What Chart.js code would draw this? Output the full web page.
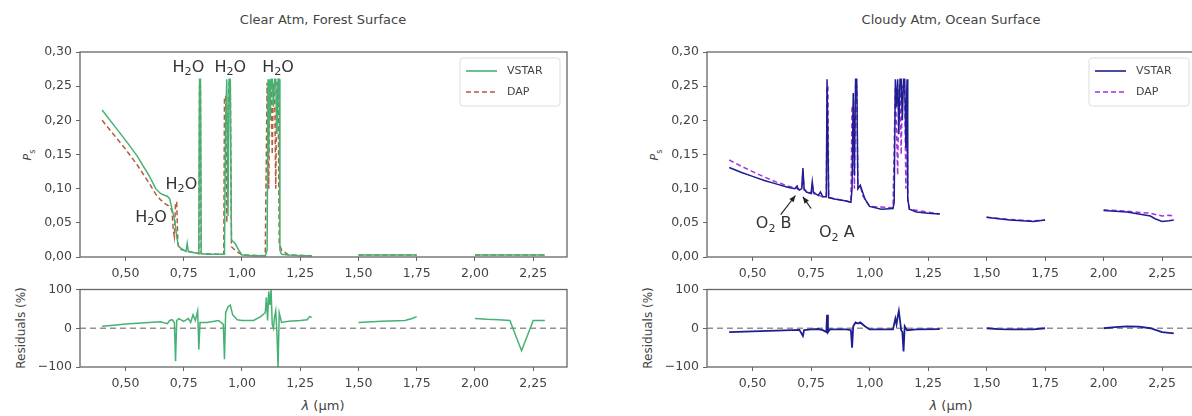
<html>
<head>
<style>
  body { margin: 0; background: #fff; }
  #fig { position: relative; width: 1192px; height: 416px; overflow: hidden; font-family: "DejaVu Sans", sans-serif; color: #444; }
  .pane { position: absolute; }
  .txt { position: absolute; white-space: nowrap; font-size: 13px; color: #444; }
  .rot { transform: translate(-50%, -50%) rotate(-90deg); }
  .ctr { transform: translate(-50%, -50%); }
</style>
</head>
<body>
<div id="fig">
  <div class="txt ctr" style="left:323px; top:19px;">Clear Atm, Forest Surface</div>
  <div class="txt ctr" style="left:951px; top:19px;">Cloudy Atm, Ocean Surface</div>
  <div class="txt rot" style="left:29px; top:155px; font-size:11px;"><i>P</i><sub style="font-size:8px">s</sub></div>
  <div class="txt rot" style="left:656px; top:155px; font-size:11px;"><i>P</i><sub style="font-size:8px">s</sub></div>
  <div class="txt rot" style="left:21px; top:328px; font-size:12px;">Residuals (%)</div>
  <div class="txt rot" style="left:648px; top:328px; font-size:12px;">Residuals (%)</div>
  <div class="txt ctr" style="left:323px; top:405px; font-size:13px;"><i>λ</i> (µm)</div>
  <div class="txt ctr" style="left:951px; top:405px; font-size:13px;"><i>λ</i> (µm)</div>
  <div class="pane" style="left:0px; top:40px; width:575px; height:245px;"><canvas id="tl"></canvas></div>
  <div class="pane" style="left:0px; top:278px; width:575px; height:117px;"><canvas id="bl"></canvas></div>
  <div class="pane" style="left:627px; top:40px; width:577px; height:245px;"><canvas id="tr"></canvas></div>
  <div class="pane" style="left:627px; top:278px; width:577px; height:117px;"><canvas id="br"></canvas></div>
</div>
<script src="https://cdn.jsdelivr.net/npm/chart.js@4.4.0/dist/chart.umd.min.js"></script>
<script>
// tick values
var xTicks = [0.5, 0.75, 1.0, 1.25, 1.5, 1.75, 2.0, 2.25];
var psTicks = [0, 0.05, 0.10, 0.15, 0.20, 0.25, 0.30];
var resTicks = [-100, 0, 100];
var xMin = 0.305, xMax = 2.395;

// Clear atm, forest surface
var lamLeftVstar = [0.40,0.45,0.50,0.55,0.60,0.63,0.65,0.67,0.68,0.69,0.70,0.71,0.715,0.72,0.725,0.73,0.75,0.76,0.765,0.77,0.80,0.815,0.818,0.822,0.825,0.85,0.90,0.925,0.93,0.935,0.94,0.945,0.95,0.955,0.97,0.99,1.00,1.05,1.10,1.108,1.112,1.115,1.118,1.122,1.125,1.13,1.135,1.14,1.145,1.15,1.155,1.16,1.163,1.17,1.20,1.25,1.30,1.40,1.50,1.60,1.75,1.90,2.00,2.15,2.30];
var valLeftVstar = [0.215,0.193,0.171,0.148,0.120,0.100,0.093,0.090,0.089,0.085,0.070,0.055,0.045,0.030,0.020,0.015,0.010,0.008,0.020,0.008,0.006,0.005,0.26,0.26,0.005,0.004,0.004,0.004,0.20,0.26,0.06,0.26,0.26,0.025,0.020,0.008,0.003,0.002,0.002,0.010,0.26,0.15,0.26,0.20,0.26,0.26,0.22,0.26,0.26,0.18,0.26,0.26,0.010,0.004,0.003,0.002,0.002,null,0.003,0.003,0.003,null,0.003,0.003,0.003];
var lamLeftDap = [0.40,0.45,0.50,0.55,0.60,0.63,0.65,0.67,0.685,0.70,0.705,0.71,0.715,0.72,0.725,0.73,0.75,0.80,0.815,0.818,0.822,0.825,0.90,0.922,0.925,0.93,0.935,0.94,0.945,0.95,0.955,0.97,1.00,1.10,1.108,1.115,1.12,1.125,1.13,1.135,1.14,1.145,1.15,1.155,1.16,1.17,1.20,1.30,1.40,1.50,1.60,1.75,1.90,2.00,2.15,2.30];
var valLeftDap = [0.200,0.179,0.158,0.135,0.109,0.092,0.084,0.078,0.075,0.068,0.040,0.030,0.080,0.080,0.020,0.012,0.010,0.006,0.005,0.25,0.25,0.005,0.004,0.004,0.235,0.235,0.05,0.20,0.255,0.255,0.015,0.010,0.003,0.002,0.255,0.10,0.255,0.255,0.15,0.255,0.255,0.10,0.255,0.255,0.02,0.010,0.003,0.002,null,0.003,0.003,0.003,null,0.003,0.003,0.003];
var lamLeftRes = [0.40,0.45,0.50,0.55,0.60,0.65,0.68,0.69,0.70,0.71,0.715,0.72,0.73,0.75,0.77,0.78,0.79,0.80,0.81,0.815,0.82,0.85,0.90,0.92,0.925,0.93,0.94,0.95,0.96,0.98,1.00,1.05,1.08,1.10,1.105,1.11,1.115,1.12,1.125,1.13,1.135,1.14,1.145,1.15,1.155,1.16,1.17,1.20,1.25,1.28,1.29,1.30,1.40,1.50,1.60,1.70,1.73,1.75,1.90,2.00,2.05,2.10,2.15,2.20,2.25,2.30];
var valLeftRes = [5,8,11,13,15,17,12,20,22,15,-85,20,25,18,25,15,35,20,45,-55,15,15,20,10,-80,40,55,60,35,22,20,20,30,40,80,20,95,60,100,10,0,30,45,-10,-100,40,15,18,20,22,30,28,null,15,18,20,25,30,null,25,23,22,20,-58,20,20];

// Cloudy atm, ocean surface
var lamRightVstar = [0.40,0.45,0.50,0.55,0.60,0.65,0.68,0.69,0.695,0.70,0.71,0.715,0.72,0.73,0.75,0.755,0.76,0.78,0.79,0.80,0.815,0.818,0.822,0.825,0.85,0.90,0.92,0.925,0.93,0.935,0.94,0.945,0.95,0.96,0.97,0.98,1.00,1.05,1.10,1.105,1.11,1.115,1.12,1.125,1.13,1.135,1.14,1.145,1.15,1.155,1.16,1.163,1.17,1.20,1.25,1.30,1.40,1.50,1.55,1.60,1.65,1.70,1.75,1.90,2.00,2.05,2.10,2.15,2.20,2.22,2.25,2.28,2.30];
var valRightVstar = [0.131,0.124,0.118,0.112,0.107,0.102,0.100,0.104,0.099,0.098,0.100,0.130,0.100,0.095,0.093,0.110,0.095,0.090,0.095,0.088,0.088,0.26,0.26,0.087,0.085,0.082,0.080,0.100,0.24,0.12,0.26,0.26,0.100,0.105,0.095,0.085,0.074,0.070,0.071,0.080,0.26,0.22,0.26,0.18,0.26,0.26,0.20,0.26,0.26,0.16,0.26,0.085,0.070,0.066,0.064,0.063,null,0.058,0.056,0.054,0.053,0.052,0.054,null,0.068,0.067,0.066,0.063,0.060,0.056,0.052,0.053,0.054];
var lamRightDap = [0.40,0.45,0.50,0.55,0.60,0.65,0.70,0.71,0.715,0.72,0.75,0.755,0.76,0.80,0.815,0.818,0.822,0.825,0.90,0.92,0.925,0.93,0.935,0.94,0.945,0.95,0.96,0.97,1.00,1.10,1.11,1.12,1.125,1.13,1.135,1.14,1.15,1.155,1.16,1.163,1.17,1.30,1.40,1.50,1.60,1.70,1.75,1.90,2.00,2.10,2.20,2.25,2.28,2.30];
var valRightDap = [0.142,0.133,0.125,0.117,0.110,0.104,0.099,0.100,0.125,0.098,0.093,0.105,0.093,0.088,0.088,0.25,0.25,0.087,0.082,0.080,0.222,0.222,0.100,0.25,0.25,0.100,0.105,0.090,0.074,0.072,0.25,0.12,0.25,0.25,0.15,0.25,0.25,0.10,0.25,0.085,0.070,0.063,null,0.058,0.055,0.053,0.054,null,0.069,0.067,0.064,0.060,0.061,0.060];
var lamRightRes = [0.40,0.50,0.60,0.70,0.715,0.72,0.75,0.78,0.80,0.815,0.818,0.822,0.83,0.90,0.92,0.925,0.93,0.94,0.95,0.96,0.98,1.00,1.05,1.10,1.11,1.115,1.12,1.125,1.13,1.135,1.14,1.145,1.15,1.155,1.16,1.20,1.30,1.40,1.50,1.55,1.60,1.70,1.75,1.90,2.00,2.05,2.10,2.15,2.20,2.25,2.30];
var valRightRes = [-10,-8,-6,-4,-20,-5,-3,-2,-5,-10,35,-10,-3,-3,-5,-50,5,15,12,15,5,-3,-3,-3,25,10,30,45,20,-5,-10,-60,5,0,-5,-3,-2,null,0,-2,-3,-3,0,null,0,3,5,4,0,-10,-13];

var textColor = '#444';
var frameColor = '#666';

function pts(lam, val) {
    var out = [];
    for (var i = 0; i < lam.length; i++) {
        out.push({x: lam[i], y: val[i]});
    }
    return out;
}

function fmtComma(v) {
    return v.toFixed(2).replace('.', ',');
}

// draws "H2O" style labels with a lowered subscript
function drawChem(ctx, parts, x, y, size) {
    ctx.save();
    ctx.textBaseline = 'middle';
    var w = 0;
    for (var i = 0; i < parts.length; i++) {
        ctx.font = (parts[i][1] ? size * 0.7 : size) + 'px "DejaVu Sans"';
        w += ctx.measureText(parts[i][0]).width;
    }
    var cx = x - w / 2;
    for (var j = 0; j < parts.length; j++) {
        var sub = parts[j][1];
        ctx.font = (sub ? size * 0.7 : size) + 'px "DejaVu Sans"';
        ctx.fillText(parts[j][0], cx, sub ? y + size * 0.3 : y);
        cx += ctx.measureText(parts[j][0]).width;
    }
    ctx.restore();
}

var framePlugin = {
    id: 'frame',
    afterDraw: function(chart, args, opts) {
        var ctx = chart.ctx, a = chart.chartArea;
        ctx.save();
        ctx.strokeStyle = frameColor;
        ctx.lineWidth = 1.3;
        ctx.strokeRect(a.left, a.top, a.right - a.left, a.bottom - a.top);
        // legend box
        if (opts.legend) {
            var L = opts.legend;
            var bx = a.right - 107, by = a.top + 6, bw = 100, bh = 48;
            ctx.fillStyle = 'rgba(255,255,255,0.85)';
            ctx.strokeStyle = '#ddd';
            ctx.lineWidth = 1;
            ctx.beginPath();
            ctx.roundRect(bx, by, bw, bh, 3);
            ctx.fill();
            ctx.stroke();
            for (var i = 0; i < L.length; i++) {
                var ly = by + 13 + i * 21;
                ctx.strokeStyle = L[i].color;
                ctx.lineWidth = 1.6;
                ctx.setLineDash(L[i].dash || []);
                ctx.beginPath();
                ctx.moveTo(bx + 6, ly);
                ctx.lineTo(bx + 37, ly);
                ctx.stroke();
                ctx.setLineDash([]);
                ctx.fillStyle = textColor;
                ctx.font = '11px "DejaVu Sans"';
                ctx.textBaseline = 'middle';
                ctx.fillText(L[i].label, bx + 47, ly);
            }
        }
        // annotations in data coordinates
        if (opts.notes) {
            var xs = chart.scales.x, ys = chart.scales.y;
            ctx.fillStyle = '#333';
            for (var k = 0; k < opts.notes.length; k++) {
                var n = opts.notes[k];
                drawChem(ctx, n.parts, xs.getPixelForValue(n.x), ys.getPixelForValue(n.y), n.size);
                if (n.arrow) {
                    var x0 = xs.getPixelForValue(n.arrow[0]), y0 = ys.getPixelForValue(n.arrow[1]);
                    var x1 = xs.getPixelForValue(n.arrow[2]), y1 = ys.getPixelForValue(n.arrow[3]);
                    var ang = Math.atan2(y1 - y0, x1 - x0);
                    ctx.strokeStyle = '#222';
                    ctx.lineWidth = 1.2;
                    ctx.beginPath();
                    ctx.moveTo(x0, y0);
                    ctx.lineTo(x1, y1);
                    ctx.stroke();
                    ctx.fillStyle = '#222';
                    ctx.beginPath();
                    ctx.moveTo(x1, y1);
                    ctx.lineTo(x1 - 7 * Math.cos(ang - 0.4), y1 - 7 * Math.sin(ang - 0.4));
                    ctx.lineTo(x1 - 7 * Math.cos(ang + 0.4), y1 - 7 * Math.sin(ang + 0.4));
                    ctx.closePath();
                    ctx.fill();
                    ctx.fillStyle = '#333';
                }
            }
        }
        ctx.restore();
    }
};

function makePanel(id, datasets, yMin, yMax, yTicks, yFmt, padTop, plugOpts) {
    var ctx = document.getElementById(id).getContext('2d');
    return new Chart(ctx, {
        type: 'line',
        data: { datasets: datasets },
        options: {
            responsive: true,
            maintainAspectRatio: false,
            animation: false,
            events: [],
            layout: { padding: { top: padTop, right: 8, left: 0, bottom: 0 } },
            plugins: { legend: { display: false }, tooltip: { enabled: false }, frame: plugOpts },
            elements: { point: { radius: 0 }, line: { tension: 0, borderWidth: 1.5 } },
            scales: {
                x: {
                    type: 'linear', min: xMin, max: xMax,
                    afterBuildTicks: function(s) { s.ticks = xTicks.map(function(v) { return {value: v}; }); },
                    afterFit: function(s) { s.height = 28; },
                    grid: { drawOnChartArea: false, tickLength: 4, color: frameColor },
                    border: { display: false },
                    ticks: { color: textColor, font: { family: 'DejaVu Sans', size: 12.5 }, padding: 5, maxRotation: 0,
                             callback: function(v) { return fmtComma(v); } }
                },
                y: {
                    type: 'linear', min: yMin, max: yMax,
                    afterBuildTicks: function(s) { s.ticks = yTicks.map(function(v) { return {value: v}; }); },
                    afterFit: function(s) { s.width = 80; },
                    grid: { drawOnChartArea: false, tickLength: 4, color: frameColor },
                    border: { display: false },
                    ticks: { color: textColor, font: { family: 'DejaVu Sans', size: 12.5 }, padding: 4, callback: yFmt }
                }
            }
        },
        plugins: [framePlugin]
    });
}

function resFmt(v) { return v < 0 ? '\u2212' + Math.abs(v) : String(v); }

var greenC = '#45b274', dapL = '#b95a3c', blueC = '#1e1e90', dapR = '#a035e0', zeroC = '#9a8f8f';

makePanel('tl', [
    { data: pts(lamLeftVstar, valLeftVstar), borderColor: greenC, spanGaps: false },
    { data: pts(lamLeftDap, valLeftDap), borderColor: dapL, borderDash: [5, 3], spanGaps: false }
], 0, 0.30, psTicks, function(v) { return fmtComma(v); }, 12, {
    legend: [{label: 'VSTAR', color: greenC}, {label: 'DAP', color: dapL, dash: [5, 3]}],
    notes: [
        {parts: [['H',0],['2',1],['O',0]], x: 0.77, y: 0.277, size: 16},
        {parts: [['H',0],['2',1],['O',0]], x: 0.95, y: 0.277, size: 16},
        {parts: [['H',0],['2',1],['O',0]], x: 1.155, y: 0.277, size: 16},
        {parts: [['H',0],['2',1],['O',0]], x: 0.74, y: 0.106, size: 16},
        {parts: [['H',0],['2',1],['O',0]], x: 0.61, y: 0.058, size: 16}
    ]
});

makePanel('bl', [
    { data: pts(lamLeftRes, valLeftRes), borderColor: greenC, spanGaps: false },
    { data: [{x: xMin, y: 0}, {x: xMax, y: 0}], borderColor: zeroC, borderDash: [6, 4], borderWidth: 1.5 }
], -100, 100, resTicks, resFmt, 8, {});

makePanel('tr', [
    { data: pts(lamRightVstar, valRightVstar), borderColor: blueC, spanGaps: false },
    { data: pts(lamRightDap, valRightDap), borderColor: dapR, borderDash: [5, 3], spanGaps: false }
], 0, 0.30, psTicks, function(v) { return fmtComma(v); }, 12, {
    legend: [{label: 'VSTAR', color: blueC}, {label: 'DAP', color: dapR, dash: [5, 3]}],
    notes: [
        {parts: [['O',0],['2',1],[' B',0]], x: 0.59, y: 0.048, size: 16, arrow: [0.62, 0.062, 0.683, 0.090]},
        {parts: [['O',0],['2',1],[' A',0]], x: 0.86, y: 0.035, size: 16, arrow: [0.75, 0.071, 0.715, 0.088]}
    ]
});

makePanel('br', [
    { data: pts(lamRightRes, valRightRes), borderColor: blueC, borderWidth: 1.8, spanGaps: false },
    { data: [{x: xMin, y: 0}, {x: xMax, y: 0}], borderColor: zeroC, borderDash: [6, 4], borderWidth: 1.5 }
], -100, 100, resTicks, resFmt, 8, {});
</script>
</body>
</html>
